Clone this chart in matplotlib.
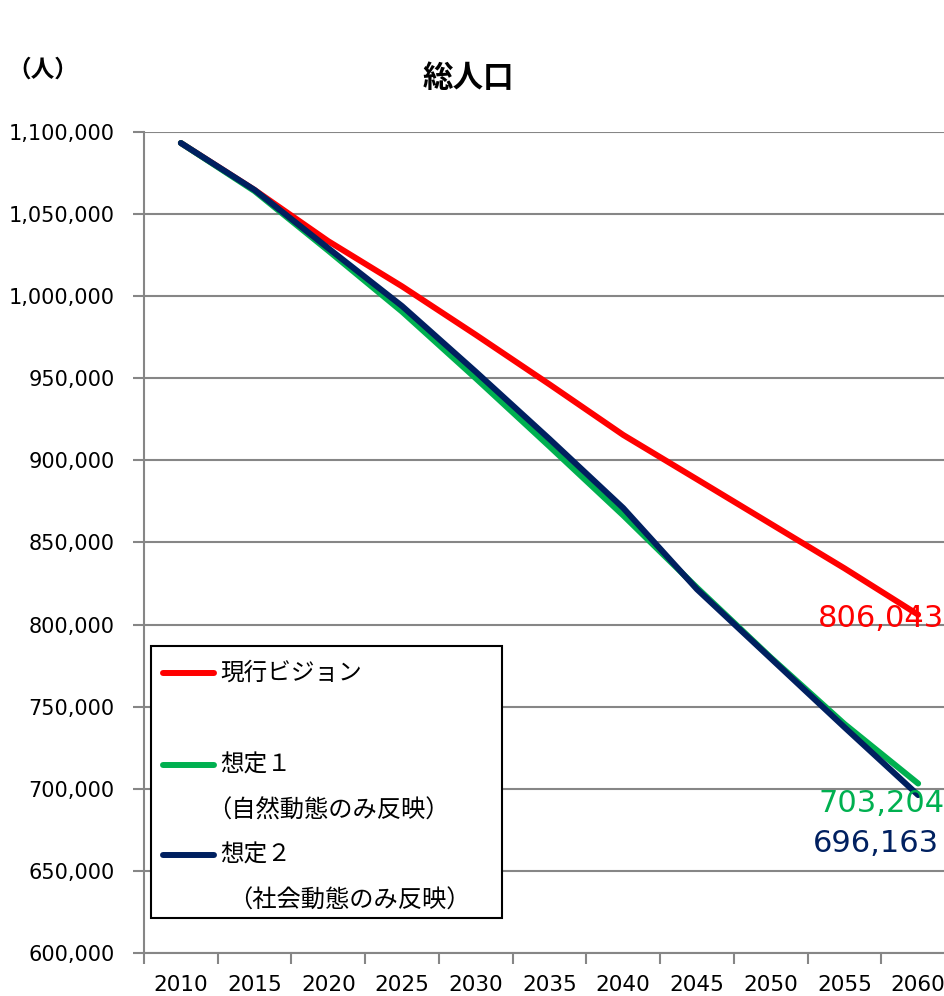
import numpy as np
import matplotlib
matplotlib.use('Agg')
import matplotlib.pyplot as plt
from matplotlib.patches import Rectangle
from matplotlib.lines import Line2D
from matplotlib.ticker import FuncFormatter, FixedLocator

# data
years = [2010, 2015, 2020, 2025, 2030, 2035, 2040, 2045, 2050, 2055, 2060]
vision = [1093300, 1064700, 1033500, 1006000, 976500, 946300, 915500, 888500, 861400, 834300, 806043]
case1 = [1093300, 1064000, 1027700, 990600, 950000, 908500, 866500, 822500, 780000, 739500, 703204]
case2 = [1093300, 1064700, 1029200, 994000, 954000, 913000, 871000, 821500, 779500, 737500, 696163]

series_names = ['現行ビジョン', '想定１', '想定２']
series_notes = ['', '（自然動態のみ反映）', '（社会動態のみ反映）']
colors = ['#FF0000', '#00B050', '#002060']

JP = ['Noto Sans CJK JP', 'DejaVu Sans']
W, H = 944, 996


def fx(px):
    return px / W


def fy(py):
    return 1 - py / H


fig = plt.figure(figsize=(W / 100, H / 100), dpi=100)
# plot area runs past the right edge like the original crop
ax = fig.add_axes([fx(144), fy(953), 811 / W, 821 / H])

x = np.arange(len(years))
for vals, c in zip([vision, case1, case2], colors):
    ax.plot(x, vals, color=c, lw=4.3, solid_capstyle='round', zorder=3)

# end labels
offsets = [(-100, -4), (-100, -20), (-105, -48)]
for vals, c, off in zip([vision, case1, case2], colors, offsets):
    ax.annotate(f'{vals[-1]:,}', xy=(x[-1], vals[-1]), xytext=off,
                textcoords='offset pixels', ha='left', va='center',
                fontsize=22, color=c, family='DejaVu Sans', zorder=4,
                annotation_clip=False)

ax.set_xlim(-0.5, len(years) - 0.5)
ax.set_ylim(600000, 1100000)
ax.set_yticks(np.arange(600000, 1100001, 50000))
ax.yaxis.set_major_formatter(FuncFormatter(lambda v, p: f'{int(v):,}'))
ax.grid(axis='y', color='#868686', lw=1.5)
ax.set_axisbelow(True)

ax.xaxis.set_major_locator(FixedLocator(np.arange(-0.5, len(years), 1.0)))
ax.xaxis.set_major_formatter(FuncFormatter(lambda v, p: ''))
ax.set_xticks(x, minor=True)
ax.set_xticklabels([str(y) for y in years], minor=True)
ax.tick_params(axis='x', which='major', length=8, width=1.5, color='#868686')
ax.tick_params(axis='x', which='minor', length=0, pad=16, labelsize=15.5)
ax.tick_params(axis='y', length=8, width=1.5, color='#868686', pad=13, labelsize=15)

for s in ['top', 'right']:
    ax.spines[s].set_visible(False)
for s in ['left', 'bottom']:
    ax.spines[s].set_color('#868686')
    ax.spines[s].set_linewidth(1.5)

fig.text(fx(468), fy(78), '総人口', ha='center', va='center', fontsize=22,
         fontweight='bold', family=JP)
fig.text(fx(43), fy(70), '（人）', ha='center', va='center', fontsize=17,
         fontweight='bold', family=JP)

# legend box drawn by hand to keep the Excel-style spacing
fig.patches.append(Rectangle((fx(151), fy(918)), (502 - 151) / W, (918 - 646) / H,
                             transform=fig.transFigure, facecolor='white',
                             edgecolor='black', lw=1.5, zorder=5))
rows = [(673, None), (765, 811), (855, 901)]
note_x = [207, 207, 228]
for name, note, c, (ly, ny), nx in zip(series_names, series_notes, colors, rows, note_x):
    fig.lines.append(Line2D([fx(163), fx(214)], [fy(ly), fy(ly)], transform=fig.transFigure,
                            color=c, lw=4.3, solid_capstyle='round', zorder=6))
    fig.text(fx(220), fy(ly), name, ha='left', va='center', fontsize=17, family=JP, zorder=6)
    if note:
        fig.text(fx(nx), fy(ny), note, ha='left', va='center', fontsize=17.5, family=JP, zorder=6)

fig.savefig('out.png', dpi=100)
